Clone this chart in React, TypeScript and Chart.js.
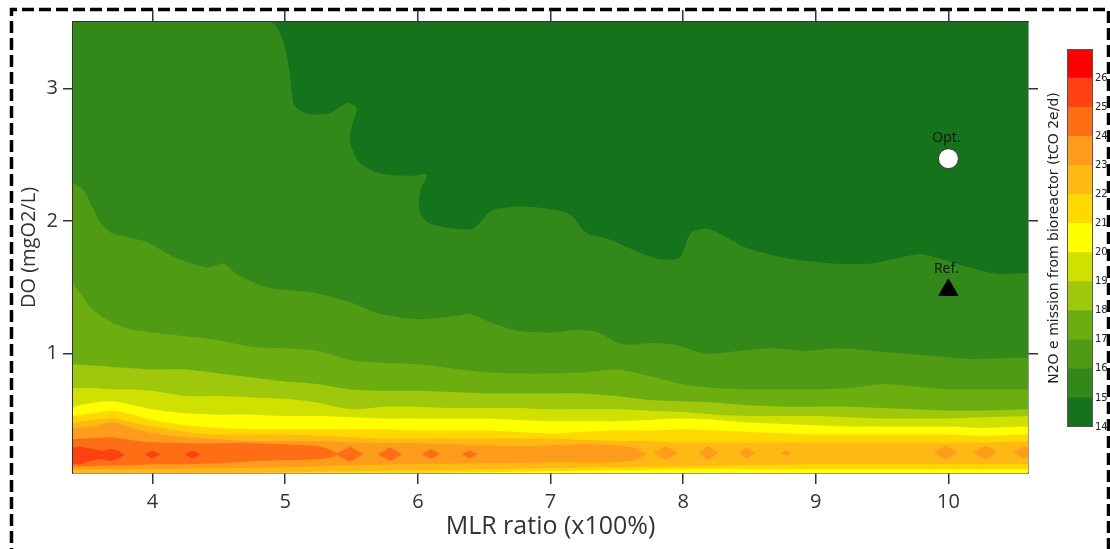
import React, { useEffect, useRef } from 'react';
import { Chart, registerables } from 'chart.js';

Chart.register(...registerables);

const FONT = '"Open Sans", "Noto Sans", sans-serif';
const INK = '#333';

// Axis ranges
const mlrMin = 3.4;
const mlrMax = 10.6;
const doMin = 0.1;
const doMax = 3.5;

// Emission bands (tCO2e/d): lower bound of each colour band and its colour
const bandLevels = [14, 15, 16, 17, 18, 19, 20, 21, 22, 23, 24, 25, 26];
const bandColors = [
  '#15741b', '#33881a', '#4f9b14', '#6cae10', '#9fc80c', '#d0e100', '#ffff00',
  '#ffd800', '#ffb914', '#ff9c1c', '#ff6e14', '#ff4010', '#ff0000',
];
const colorOf = (level: number) => bandColors[bandLevels.indexOf(level)];

// Upper contour lines as [MLR, DO] pairs (emission rises below each line)
const contour15: [number, number][] = [
  [3.4, 3.5], [4.89, 3.5], [4.98, 3.37], [5.03, 3.14], [5.05, 2.96], [5.07, 2.87], [5.16, 2.81],
  [5.33, 2.81], [5.47, 2.89], [5.54, 2.85], [5.5, 2.71], [5.49, 2.59], [5.56, 2.44], [5.71, 2.36],
  [5.96, 2.34], [6.07, 2.35], [6.02, 2.23], [6.01, 2.08], [6.09, 1.98], [6.41, 1.94], [6.56, 2.08],
  [6.78, 2.11], [7.06, 2.08], [7.16, 2.04], [7.27, 1.91], [7.42, 1.87], [7.79, 1.72], [7.97, 1.72],
  [8.06, 1.91], [8.19, 1.94], [8.34, 1.87], [8.47, 1.8], [8.77, 1.72], [9.12, 1.68], [9.42, 1.68],
  [9.77, 1.75], [9.92, 1.72], [10.12, 1.66], [10.37, 1.6], [10.6, 1.61],
];
const contour16: [number, number][] = [
  [3.4, 2.29], [3.48, 2.23], [3.6, 2.0], [3.69, 1.91], [3.81, 1.88], [3.96, 1.84], [4.18, 1.72],
  [4.41, 1.65], [4.53, 1.68], [4.58, 1.65], [4.63, 1.6], [4.86, 1.5], [5.21, 1.46], [5.51, 1.38],
  [5.71, 1.3], [6.01, 1.26], [6.31, 1.29], [6.39, 1.3], [6.56, 1.23], [6.76, 1.17], [7.01, 1.16],
  [7.21, 1.18], [7.36, 1.16], [7.54, 1.07], [7.79, 1.08], [7.97, 1.06], [8.17, 1.0], [8.42, 1.02],
  [8.66, 1.04], [8.92, 1.02], [9.17, 1.04], [9.54, 1.01], [9.92, 0.98], [10.17, 0.96], [10.6, 0.97],
];

// Flatter low-DO contours sampled on a shared MLR grid
const mlrGrid = [
  3.4, 3.55, 3.7, 3.85, 4.0, 4.25, 4.5, 4.75, 5.0, 5.25, 5.5, 5.75, 6.0, 6.25, 6.5, 6.75,
  7.0, 7.25, 7.5, 7.75, 8.0, 8.25, 8.5, 8.75, 9.0, 9.25, 9.5, 9.75, 10.0, 10.25, 10.6,
];
const do17 = [1.53, 1.33, 1.23, 1.18, 1.16, 1.13, 1.10, 1.05, 1.04, 1.02, 0.95, 0.93, 0.92, 0.89, 0.86, 0.85, 0.85, 0.86, 0.88, 0.83, 0.77, 0.74, 0.73, 0.73, 0.73, 0.74, 0.77, 0.75, 0.73, 0.73, 0.73];
const do18 = [0.92, 0.91, 0.90, 0.89, 0.88, 0.88, 0.85, 0.82, 0.79, 0.77, 0.73, 0.72, 0.72, 0.71, 0.70, 0.70, 0.70, 0.70, 0.68, 0.65, 0.64, 0.63, 0.61, 0.60, 0.60, 0.60, 0.59, 0.58, 0.57, 0.57, 0.58];
const do19 = [0.74, 0.74, 0.73, 0.73, 0.72, 0.68, 0.68, 0.67, 0.66, 0.63, 0.58, 0.60, 0.60, 0.59, 0.59, 0.59, 0.58, 0.58, 0.58, 0.57, 0.56, 0.54, 0.53, 0.53, 0.53, 0.52, 0.51, 0.51, 0.51, 0.52, 0.53];
const do20 = [0.60, 0.63, 0.64, 0.61, 0.58, 0.55, 0.54, 0.54, 0.53, 0.53, 0.52, 0.51, 0.51, 0.51, 0.51, 0.50, 0.49, 0.49, 0.49, 0.50, 0.51, 0.50, 0.48, 0.47, 0.46, 0.45, 0.45, 0.45, 0.45, 0.44, 0.45];
const do21 = [0.53, 0.55, 0.57, 0.54, 0.50, 0.46, 0.44, 0.43, 0.43, 0.43, 0.43, 0.43, 0.42, 0.42, 0.42, 0.41, 0.40, 0.41, 0.42, 0.42, 0.43, 0.42, 0.41, 0.40, 0.39, 0.39, 0.39, 0.39, 0.39, 0.38, 0.39];
const do22 = [0.48, 0.50, 0.51, 0.48, 0.45, 0.41, 0.39, 0.39, 0.39, 0.38, 0.37, 0.36, 0.36, 0.36, 0.36, 0.36, 0.36, 0.35, 0.34, 0.34, 0.33, 0.33, 0.33, 0.33, 0.33, 0.33, 0.33, 0.33, 0.33, 0.33, 0.34];

// Upper edges of the 23 and 24 ridges (they close off to a tip)
const contour23: [number, number][] = [
  [3.4, 0.44], [3.55, 0.45], [3.7, 0.48], [3.85, 0.44], [4.0, 0.4], [4.25, 0.37], [4.5, 0.355],
  [4.75, 0.34], [5.0, 0.34], [5.25, 0.34], [5.5, 0.332], [5.75, 0.325], [6.0, 0.325], [6.25, 0.317],
  [6.5, 0.31], [6.75, 0.302], [7.0, 0.31], [7.25, 0.317], [7.5, 0.31], [7.65, 0.287], [7.72, 0.242],
];
const contour24: [number, number][] = [
  [3.4, 0.355], [3.55, 0.362], [3.7, 0.37], [3.85, 0.347], [4.0, 0.332], [4.25, 0.325], [4.5, 0.325],
  [4.75, 0.325], [5.0, 0.317], [5.25, 0.302], [5.35, 0.272], [5.4, 0.242],
];

// Lower contour lines near the bottom edge (emission falls below each line)
const lower24: [number, number][] = [
  [3.4, 0.151], [3.55, 0.151], [3.7, 0.158], [3.85, 0.158], [4.0, 0.166], [4.25, 0.166], [4.5, 0.173],
  [4.75, 0.189], [5.0, 0.196], [5.25, 0.204], [5.35, 0.219], [5.4, 0.242],
];
const lower23: [number, number][] = [
  [3.4, 0.128], [3.7, 0.128], [4.0, 0.128], [4.5, 0.135], [5.0, 0.143], [5.5, 0.158], [6.0, 0.166],
  [6.5, 0.173], [7.0, 0.181], [7.5, 0.181], [7.65, 0.204], [7.72, 0.242],
];
const lower22: [number, number][] = [
  [4.5, 0.098], [5.0, 0.105], [5.5, 0.113], [6.0, 0.12], [6.5, 0.128], [7.0, 0.135], [7.5, 0.143],
  [8.0, 0.151], [8.5, 0.158], [9.0, 0.166], [10.6, 0.166],
];
const lower21: [number, number][] = [
  [6.0, 0.098], [6.5, 0.105], [7.0, 0.113], [7.5, 0.12], [8.0, 0.128], [10.6, 0.128],
];

// Closed islands along the emission ridge
const islands25: [number, number][][] = [
  [[3.38, 0.29], [3.45, 0.3], [3.54, 0.28], [3.62, 0.265], [3.68, 0.28], [3.74, 0.27], [3.79, 0.235], [3.74, 0.205], [3.68, 0.19], [3.62, 0.205], [3.54, 0.195], [3.45, 0.165], [3.38, 0.175], [3.38, 0.29]],
  [[3.94, 0.24], [4.0, 0.27], [4.06, 0.24], [4.0, 0.21], [3.94, 0.24]],
  [[4.24, 0.24], [4.3, 0.27], [4.36, 0.24], [4.3, 0.21], [4.24, 0.24]],
];
const islands24: [number, number][][] = [
  [[5.38, 0.242], [5.485, 0.3], [5.59, 0.242], [5.485, 0.185], [5.38, 0.242]],
  [[5.7, 0.242], [5.79, 0.295], [5.88, 0.242], [5.79, 0.19], [5.7, 0.242]],
  [[6.03, 0.242], [6.1, 0.28], [6.17, 0.242], [6.1, 0.205], [6.03, 0.242]],
  [[6.33, 0.242], [6.39, 0.272], [6.45, 0.242], [6.39, 0.212], [6.33, 0.242]],
];
const islands23: [number, number][][] = [
  [[7.78, 0.25], [7.87, 0.303], [7.96, 0.25], [7.87, 0.197], [7.78, 0.25]],
  [[8.115, 0.25], [8.19, 0.303], [8.265, 0.25], [8.19, 0.197], [8.115, 0.25]],
  [[8.42, 0.25], [8.48, 0.295], [8.54, 0.25], [8.48, 0.205], [8.42, 0.25]],
  [[8.74, 0.25], [8.78, 0.273], [8.82, 0.25], [8.78, 0.227], [8.74, 0.25]],
  [[9.89, 0.255], [9.98, 0.308], [10.07, 0.255], [9.98, 0.202], [9.89, 0.255]],
  [[10.19, 0.255], [10.28, 0.308], [10.37, 0.255], [10.28, 0.202], [10.19, 0.255]],
  [[10.49, 0.255], [10.57, 0.305], [10.65, 0.255], [10.57, 0.205], [10.49, 0.255]],
];

// Operating points
const markerNames = ['Opt.', 'Ref.'];
const markerMLR = [10, 10];
const markerDO = [2.47, 1.48];

// Tick values
const doTicks = [1, 2, 3];
const mlrTicks = [4, 5, 6, 7, 8, 9, 10];

const toPts = (pairs: [number, number][]) => pairs.map(([x, y]) => ({ x, y }));
const onGrid = (ys: number[]) => mlrGrid.map((x, i) => ({ x, y: ys[i] }));

function buildLayers() {
  // paint order: first entry is painted first (bottom-most)
  const layers: any[] = [];
  const band = (data: any[], level: number, fill: any, tension = 0.25) =>
    layers.push({ data, backgroundColor: colorOf(level), fill, tension });
  band(toPts(contour15), 15, 'start');
  band(toPts(contour16), 16, 'start');
  band(onGrid(do17), 17, 'start');
  band(onGrid(do18), 18, 'start');
  band(onGrid(do19), 19, 'start');
  band(onGrid(do20), 20, 'start');
  band(onGrid(do21), 21, 'start');
  band(onGrid(do22), 22, 'start');
  band(toPts(contour23), 23, 'start');
  band(toPts(contour24), 24, 'start');
  band(toPts(lower24), 23, 'start');
  band(toPts(lower23), 22, 'start');
  band(toPts(lower22), 21, 'start');
  band(toPts(lower21), 20, 'start');
  islands25.forEach((p) => band(toPts(p), 25, 'shape', 0));
  islands24.forEach((p) => band(toPts(p), 24, 'shape', 0));
  islands23.forEach((p) => band(toPts(p), 23, 'shape', 0));
  const n = layers.length;
  return layers.map((l, i) => ({
    ...l,
    borderWidth: 0,
    pointRadius: 0,
    order: n - i + 1,
  }));
}

const plotBackground = {
  id: 'plotBackground',
  beforeDatasetsDraw(chart: any) {
    const { ctx, chartArea: a } = chart;
    ctx.save();
    ctx.fillStyle = colorOf(14);
    ctx.fillRect(a.left, a.top, a.right - a.left, a.bottom - a.top);
    ctx.restore();
  },
};

const markerLabels = {
  id: 'markerLabels',
  afterDatasetsDraw(chart: any) {
    const idx = chart.data.datasets.findIndex((d: any) => d.label === 'markers');
    if (idx < 0) return;
    const meta = chart.getDatasetMeta(idx);
    const { ctx } = chart;
    ctx.save();
    ctx.font = `14px ${FONT}`;
    ctx.fillStyle = '#111';
    ctx.textAlign = 'center';
    ctx.textBaseline = 'middle';
    meta.data.forEach((pt: any, i: number) => {
      ctx.fillText(markerNames[i], pt.x - 2, pt.y - 21);
    });
    ctx.restore();
  },
};

const barOutline = {
  id: 'barOutline',
  afterDatasetsDraw(chart: any) {
    const { ctx, chartArea: a } = chart;
    ctx.save();
    ctx.strokeStyle = '#555';
    ctx.lineWidth = 1;
    ctx.strokeRect(a.left + 0.5, a.top + 0.5, a.right - a.left - 1, a.bottom - a.top - 1);
    ctx.restore();
  },
};

function linearAxis(position: string, min: number, max: number, tickValues: number[], extra: any) {
  return {
    type: 'linear',
    position,
    min,
    max,
    z: 1,
    ticks: {
      stepSize: 1,
      includeBounds: false,
      color: INK,
      font: { family: FONT, size: 20 },
      ...(extra.ticks || {}),
    },
    grid: {
      drawOnChartArea: false,
      color: INK,
      lineWidth: 1.5,
      tickLength: 10,
      ...(extra.grid || {}),
    },
    border: { color: INK, width: 1.5 },
    title: extra.title || { display: false },
    afterFit: extra.afterFit,
    afterBuildTicks: (scale: any) => {
      scale.ticks = tickValues.map((v) => ({ value: v }));
    },
  };
}

export default function App() {
  const plotRef = useRef<HTMLCanvasElement | null>(null);
  const barRef = useRef<HTMLCanvasElement | null>(null);

  useEffect(() => {
    const datasets: any[] = buildLayers();
    datasets.push({
      label: 'markers',
      data: markerMLR.map((x, i) => ({ x, y: markerDO[i] })),
      showLine: false,
      fill: false,
      pointStyle: ['circle', 'triangle'],
      pointRadius: [10, 11],
      pointBackgroundColor: ['#ffffff', '#000000'],
      pointBorderColor: ['#333333', '#000000'],
      pointBorderWidth: [1, 1],
      order: -1,
    });

    const plot = new Chart(plotRef.current as HTMLCanvasElement, {
      type: 'line',
      data: { datasets },
      options: {
        responsive: false,
        animation: false,
        events: [],
        layout: { padding: 0 },
        plugins: {
          legend: { display: false },
          tooltip: { enabled: false },
        },
        scales: {
          x: linearAxis('bottom', mlrMin, mlrMax, mlrTicks, {
            ticks: { padding: 6 },
            grid: { tickLength: 11 },
            title: {
              display: true,
              text: 'MLR ratio (x100%)',
              color: INK,
              font: { family: FONT, size: 25 },
              padding: { top: 0, bottom: 7 },
            },
            afterFit: (s: any) => { s.height = 76; },
          }),
          x2: linearAxis('top', mlrMin, mlrMax, mlrTicks, {
            ticks: { display: false },
            grid: { tickLength: 12 },
            afterFit: (s: any) => { s.height = 22; },
          }),
          y: linearAxis('left', doMin, doMax, doTicks, {
            ticks: { padding: 5 },
            title: {
              display: true,
              text: 'DO (mgO2/L)',
              color: INK,
              font: { family: FONT, size: 20 },
              padding: { top: 17, bottom: 0 },
            },
            afterFit: (s: any) => { s.width = 73; },
          }),
          y2: linearAxis('right', doMin, doMax, doTicks, {
            ticks: { display: false },
            afterFit: (s: any) => { s.width = 11; },
          }),
        },
      } as any,
      plugins: [plotBackground, markerLabels],
    });

    const bar = new Chart(barRef.current as HTMLCanvasElement, {
      type: 'bar',
      data: {
        labels: [''],
        datasets: bandLevels.map((lv) => ({
          data: [[lv, lv + 1]],
          backgroundColor: colorOf(lv),
          borderWidth: 0,
          grouped: false,
          barPercentage: 1,
          categoryPercentage: 1,
        })),
      } as any,
      options: {
        responsive: false,
        animation: false,
        events: [],
        layout: { padding: { top: 49, bottom: 122, left: 0, right: 0 } },
        plugins: { legend: { display: false }, tooltip: { enabled: false } },
        scales: {
          x: { display: false },
          y: {
            position: 'right',
            min: 14,
            max: 27,
            ticks: {
              stepSize: 1,
              autoSkip: false,
              padding: 2,
              color: '#222',
              font: { family: '"DejaVu Sans", sans-serif', size: 10 },
              callback: (v: any) => (v < 27 ? String(v) : ''),
            },
            grid: { display: false, drawTicks: false },
            border: { display: false },
            afterFit: (s: any) => { s.width = 17; },
          },
          yt: {
            type: 'linear',
            axis: 'y',
            position: 'left',
            min: 14,
            max: 27,
            ticks: { display: false },
            grid: { display: false, drawTicks: false },
            border: { display: false },
            title: {
              display: true,
              text: 'N2O e mission from bioreactor (tCO 2e/d)',
              color: '#222',
              font: { family: '"DejaVu Sans", sans-serif', size: 14 },
              padding: { top: 6, bottom: 0 },
            },
            afterFit: (s: any) => { s.width = 27; },
          },
        },
      } as any,
      plugins: [barOutline],
    });

    return () => {
      plot.destroy();
      bar.destroy();
    };
  }, []);

  return (
    <div style={{ position: 'absolute', left: 0, top: 0, width: 1110, height: 549, background: '#fff', overflow: 'hidden' }}>
      <svg width={1110} height={549} style={{ position: 'absolute', left: 0, top: 0 }}>
        <path d="M11.5 560 V9.5 H1108.5 V560" fill="none" stroke="#000" strokeWidth={3.5} strokeDasharray="12 5" />
      </svg>
      <div style={{ position: 'absolute', left: 0, top: 0, width: 1040, height: 549 }}>
        <canvas ref={plotRef} width={1040} height={549} />
      </div>
      <div style={{ position: 'absolute', left: 1040, top: 0, width: 70, height: 549 }}>
        <canvas ref={barRef} width={70} height={549} />
      </div>
    </div>
  );
}
